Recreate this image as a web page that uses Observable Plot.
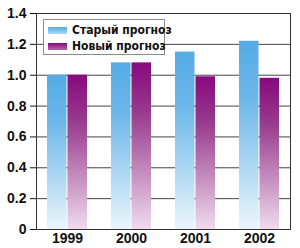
<!DOCTYPE html>
<html>
<head>
<meta charset="utf-8">
<script src="https://cdn.jsdelivr.net/npm/d3@7"></script>
<script src="https://cdn.jsdelivr.net/npm/@observablehq/plot@0.6"></script>
<style>
  html, body { margin: 0; padding: 0; background: #fff; }
  #wrap { position: relative; width: 300px; height: 248px; }
  #legend {
    position: absolute; left: 43px; top: 19px; width: 122px; height: 36px;
    border: 1px solid #8a8a8a; background: #fff; box-sizing: border-box;
    font-family: "Liberation Sans Narrow", "DejaVu Sans Condensed", "Liberation Sans", sans-serif;
    font-weight: bold; font-size: 12px; color: #111;
  }
  .item { position: absolute; left: 4px; height: 14px; display: flex; align-items: center; white-space: nowrap; }
  .sw { width: 19px; height: 7px; margin-right: 5px; }
</style>
</head>
<body>
<div id="wrap"><div id="legend"></div></div>
<script>
const years = ["1999", "2000", "2001", "2002"];
const oldForecast = [1.0, 1.08, 1.15, 1.22];
const newForecast = [1.0, 1.08, 0.99, 0.98];
const seriesNames = ["Старый прогноз", "Новый прогноз"];
const yTicks = [0, 0.2, 0.4, 0.6, 0.8, 1.0, 1.2, 1.4];

const data = years.map((year, i) => ({year, old: oldForecast[i], new: newForecast[i]}));
const fmt = d => d === 0 ? "0" : d.toFixed(1);

const chart = Plot.plot({
  width: 300,
  height: 248,
  marginLeft: 36,
  marginRight: 10,
  marginTop: 13,
  marginBottom: 19,
  style: {fontFamily: "'Liberation Sans', Arial, sans-serif", fontSize: "14px", fontWeight: "bold", color: "#111", background: "#fff"},
  x: {domain: years, paddingInner: 0.38, paddingOuter: 0.16, label: null, tickSize: 0, tickPadding: 4},
  y: {domain: [0, 1.4], ticks: yTicks, tickFormat: fmt, label: null, tickSize: 6, tickPadding: 4},
  marks: [
    Plot.ruleY(yTicks, {stroke: "#444", strokeWidth: 1}),
    Plot.barY(data, {x: "year", y: "old", fill: "url(#gOld)", insetRight: 20.5}),
    Plot.barY(data, {x: "year", y: "new", fill: "url(#gNew)", insetLeft: 20.5}),
    Plot.frame({stroke: "#333"})
  ]
});

const ns = "http://www.w3.org/2000/svg";
const defs = document.createElementNS(ns, "defs");
defs.innerHTML = `
  <linearGradient id="gOld" x1="0" y1="0" x2="0" y2="1">
    <stop offset="0" stop-color="#55abe6"/>
    <stop offset="0.3" stop-color="#6cb6e9"/>
    <stop offset="1" stop-color="#eaf5fc"/>
  </linearGradient>
  <linearGradient id="gNew" x1="0" y1="0" x2="0" y2="1">
    <stop offset="0" stop-color="#870a7d"/>
    <stop offset="0.3" stop-color="#983a8d"/>
    <stop offset="1" stop-color="#efdaee"/>
  </linearGradient>`;
chart.insertBefore(defs, chart.firstChild);

const wrap = document.getElementById("wrap");
wrap.insertBefore(chart, wrap.firstChild);

const legend = document.getElementById("legend");
const swatches = ["linear-gradient(#55abe6, #a9d5f3)", "linear-gradient(#870a7d, #b266ac)"];
seriesNames.forEach((name, i) => {
  const it = document.createElement("div");
  it.className = "item";
  it.style.top = (3 + i * 16) + "px";
  it.innerHTML = `<span class="sw" style="background:${swatches[i]}"></span><span>${name}</span>`;
  legend.appendChild(it);
});
</script>
</body>
</html>
